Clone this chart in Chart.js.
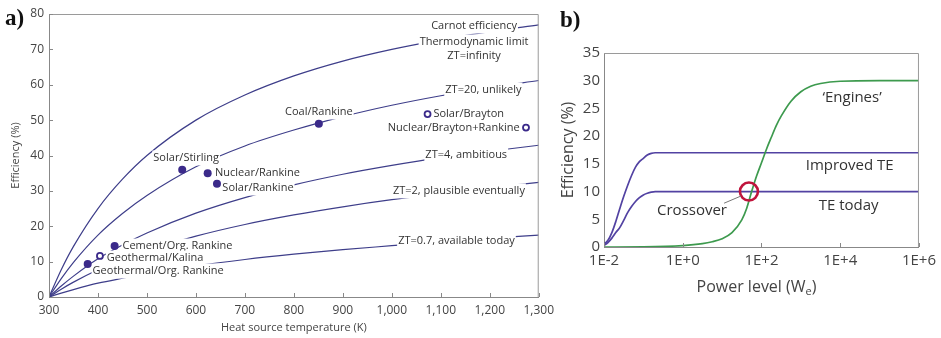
<!DOCTYPE html>
<html lang="en">
<head>
<meta charset="UTF-8">
<title>Efficiency vs temperature and power level</title>
<script src="https://cdn.jsdelivr.net/npm/chart.js"></script>
<style>
  html, body { margin: 0; padding: 0; background: #fff; }
  body { width: 941px; height: 338px; position: relative; overflow: hidden; }
  .panel { position: absolute; top: 0; height: 338px; }
  #boxA { left: 0; width: 560px; }
  #boxB { left: 560px; width: 381px; }
  .tag { position: absolute; font-family: 'Liberation Serif', serif; font-weight: bold; font-size: 23px; color: #111; line-height: 1; }
</style>
</head>
<body>
<div class="panel" id="boxA"><canvas id="chartA" width="560" height="338"></canvas></div>
<div class="panel" id="boxB"><canvas id="chartB" width="381" height="338"></canvas></div>
<div class="tag" style="left:5px; top:6px;">a)</div>
<div class="tag" style="left:560px; top:8px;">b)</div>

<script>
  // ---- panel a: efficiency vs heat source temperature ----
  const temps  = [300, 325, 350, 400, 450, 500, 600, 700, 800, 900, 1000, 1100, 1200, 1300];
  const carnot = [0, 7.7, 14.3, 25.0, 33.3, 40.0, 50.0, 57.1, 62.5, 66.7, 70.0, 72.7, 75.0, 76.9];
  const zt20   = [0, 5.2, 9.8, 17.5, 23.6, 28.7, 36.8, 42.7, 47.2, 51.0, 54.2, 56.9, 59.2, 61.2];
  const zt4    = [0, 3.1, 5.9, 10.8, 14.7, 18.1, 23.7, 28.1, 31.7, 34.7, 37.2, 39.4, 41.2, 42.9];
  const zt2    = [0, 2.2, 4.2, 7.7, 10.6, 13.1, 17.2, 20.5, 23.2, 25.5, 27.5, 29.2, 30.9, 32.4];
  const zt07   = [0, 1.1, 2.1, 3.9, 5.3, 6.6, 8.8, 10.6, 12.1, 13.4, 14.5, 15.6, 16.6, 17.5];

  const plantNames = ['Coal/Rankine', 'Solar/Stirling', 'Nuclear/Rankine', 'Solar/Rankine', 'Cement/Org. Rankine', 'Geothermal/Org. Rankine'];
  const plantTemps = [851, 572, 624, 643, 434, 379];
  const plantEff   = [49.0, 36.0, 35.0, 32.0, 14.4, 9.3];
  const projNames  = ['Geothermal/Kalina', 'Solar/Brayton', 'Nuclear/Brayton+Rankine'];
  const projTemps  = [404, 1073, 1274];
  const projEff    = [11.6, 51.7, 47.9];

  const tempTicks = [300, 400, 500, 600, 700, 800, 900, 1000, 1100, 1200, 1300];
  const effTicksA = [0, 10, 20, 30, 40, 50, 60, 70, 80];

  // ---- panel b: efficiency vs power level ----
  const powerTE    = [0.01, 0.01259, 0.01585, 0.01995, 0.02512, 0.03162, 0.03981, 0.05012, 0.0631, 0.07943,
                      0.1, 0.1259, 0.1585, 0.1995, 0.2512, 0.3162, 1, 10, 100, 1000, 1e4, 1e5, 1e6];
  const teToday    = [0.3, 0.8, 1.6, 2.6, 3.5, 4.8, 6.2, 7.3, 8.2, 8.9,
                      9.4, 9.7, 9.9, 10, 10, 10, 10, 10, 10, 10, 10, 10, 10];
  const teImproved = [0.5, 1.2, 2.6, 4.6, 6.9, 9.1, 11.1, 12.9, 14.4, 15.4,
                      16.0, 16.6, 16.9, 17, 17, 17, 17, 17, 17, 17, 17, 17, 17];
  const powerEng   = [0.01, 0.1, 1, 3.16, 5.62, 10, 17.8, 31.6, 42.2, 56.2, 75.0, 100, 133, 178, 237, 316,
                      562, 1000, 1778, 3162, 1e4, 1e5, 1e6];
  const engines    = [0, 0.03, 0.25, 0.6, 0.95, 1.5, 2.6, 4.9, 7.0, 10.0, 12.8, 15.2, 17.6, 19.8, 21.9, 23.6,
                      26.3, 28.0, 29.0, 29.5, 29.9, 30, 30];
  const crossover  = [48, 10];

  const powerTicks = [0.01, 1, 100, 1e4, 1e6];
  const powerTickLabels = ['1E-2', '1E+0', '1E+2', '1E+4', '1E+6'];
  const effTicksB = [0, 5, 10, 15, 20, 25, 30, 35];

  // text placed in data coordinates
  const notesA = [
    { text: 'Carnot efficiency', x: 1168, y: 76.6, align: 'center' },
    { text: 'Thermodynamic limit', x: 1168, y: 72.1, align: 'center' },
    { text: 'ZT=infinity', x: 1168, y: 68.2, align: 'center' },
    { text: 'ZT=20, unlikely', x: 1187, y: 58.5, align: 'center' },
    { text: 'Solar/Brayton', x: 1085, y: 51.7, align: 'left' },
    { text: 'Nuclear/Brayton+Rankine', x: 1261, y: 47.8, align: 'right' },
    { text: 'ZT=4, ambitious', x: 1152, y: 40.1, align: 'center' },
    { text: 'ZT=2, plausible eventually', x: 1137, y: 30.0, align: 'center' },
    { text: 'ZT=0.7, available today', x: 1132, y: 15.8, align: 'center' },
    { text: 'Coal/Rankine', x: 851, y: 52.3, align: 'center' },
    { text: 'Solar/Stirling', x: 580, y: 39.3, align: 'center' },
    { text: 'Nuclear/Rankine', x: 639, y: 35.1, align: 'left' },
    { text: 'Solar/Rankine', x: 654, y: 30.8, align: 'left' },
    { text: 'Cement/Org. Rankine', x: 450, y: 14.4, align: 'left' },
    { text: 'Geothermal/Kalina', x: 418, y: 11.0, align: 'left' },
    { text: 'Geothermal/Org. Rankine', x: 389, y: 7.35, align: 'left' }
  ];
  const notesB = [
    { text: '\u2018Engines\u2019', x: 2.0e4, y: 26.9, align: 'center' },
    { text: 'Improved TE', x: 1.74e4, y: 14.6, align: 'center' },
    { text: 'TE today', x: 1.63e4, y: 7.4, align: 'center' },
    { text: 'Crossover', x: 1.72, y: 6.5, align: 'center' }
  ];
  const leaderB = [[11.2, 7.9], [30.2, 9.2]];

  const FONT = "'Open Sans', 'DejaVu Sans', sans-serif";
  const toXY = (xs, ys) => xs.map((v, i) => ({ x: v, y: ys[i] }));

  function drawNotes(chart, notes, size, boxed) {
    const ctx = chart.ctx, sx = chart.scales.x, sy = chart.scales.y;
    ctx.save();
    ctx.font = size + 'px ' + FONT;
    ctx.textBaseline = 'middle';
    notes.forEach(n => {
      const px = sx.getPixelForValue(n.x), py = sy.getPixelForValue(n.y);
      const w = ctx.measureText(n.text).width;
      let left = px;
      if (n.align === 'center') left = px - w / 2;
      if (n.align === 'right') left = px - w;
      if (boxed) {
        ctx.fillStyle = '#fff';
        ctx.fillRect(left - 1, py - size / 2 - 2, w + 2, size + 4);
      }
      ctx.fillStyle = '#333';
      ctx.textAlign = 'left';
      ctx.fillText(n.text, left, py);
    });
    ctx.restore();
  }

  function drawFrame(chart, xTicks, yTicks) {
    const ctx = chart.ctx, a = chart.chartArea, sx = chart.scales.x, sy = chart.scales.y;
    ctx.save();
    ctx.strokeStyle = '#9a9a9a';
    ctx.lineWidth = 1;
    ctx.beginPath();
    ctx.moveTo(a.left, a.top + 0.5);
    ctx.lineTo(a.right - 0.5, a.top + 0.5);
    ctx.lineTo(a.right - 0.5, a.bottom);
    ctx.stroke();
    ctx.strokeStyle = '#888';
    ctx.beginPath();
    xTicks.forEach(v => {
      const px = Math.round(sx.getPixelForValue(v)) + 0.5;
      ctx.moveTo(px, a.bottom);
      ctx.lineTo(px, a.bottom - 4);
    });
    yTicks.forEach(v => {
      const py = Math.round(sy.getPixelForValue(v)) + 0.5;
      ctx.moveTo(a.left, py);
      ctx.lineTo(a.left + 4, py);
    });
    ctx.stroke();
    ctx.restore();
  }

  const lineA = (data) => ({
    data: toXY(temps, data), showLine: true, pointRadius: 0,
    borderColor: '#3e3e8a', borderWidth: 1.2, cubicInterpolationMode: 'monotone'
  });

  new Chart(document.getElementById('chartA'), {
    type: 'scatter',
    data: {
      datasets: [
        { label: 'Existing', data: toXY(plantTemps, plantEff), pointRadius: 4, backgroundColor: '#3b2a8a', borderColor: '#3b2a8a', borderWidth: 0 },
        { label: 'Proposed', data: toXY(projTemps, projEff), pointRadius: 3, backgroundColor: '#fff', borderColor: '#3b2a8a', borderWidth: 1.8 },
        lineA(carnot), lineA(zt20), lineA(zt4), lineA(zt2), lineA(zt07)
      ]
    },
    options: {
      responsive: false, animation: false, events: [],
      layout: { padding: { left: 0, right: 19, top: 14, bottom: 0 } },
      plugins: { legend: { display: false }, tooltip: { enabled: false } },
      scales: {
        x: {
          type: 'linear', min: 300, max: 1300,
          afterFit: s => { s.height = 41; },
          afterBuildTicks: s => { s.ticks = tempTicks.map(v => ({ value: v })); },
          grid: { display: false, drawTicks: false },
          border: { display: true, color: '#888', width: 1 },
          ticks: { autoSkip: false, maxRotation: 0, padding: 6, color: '#444', font: { family: FONT, size: 12 },
                   callback: v => v >= 1000 ? Math.floor(v / 1000) + ',' + String(v % 1000).padStart(3, '0') : String(v) },
          title: { display: true, text: 'Heat source temperature (K)', color: '#444', font: { family: FONT, size: 11 }, padding: { top: 0, bottom: 4 } }
        },
        y: {
          min: 0, max: 80,
          afterFit: s => { s.width = 49; },
          afterBuildTicks: s => { s.ticks = effTicksA.map(v => ({ value: v })); },
          grid: { display: false, drawTicks: false },
          border: { display: true, color: '#888', width: 1 },
          ticks: { padding: 5, color: '#444', font: { family: FONT, size: 12 } },
          title: { display: true, text: 'Efficiency (%)', color: '#444', font: { family: FONT, size: 11 }, padding: { top: 9, bottom: 0 } }
        }
      }
    },
    plugins: [{
      id: 'notesA',
      beforeDatasetDraw(chart, args) { if (args.index === 1) drawNotes(chart, notesA, 11, true); },
      afterDraw(chart) { drawFrame(chart, tempTicks, effTicksA); }
    }]
  });

  const lineB = (xs, ys, color) => ({
    data: toXY(xs, ys), showLine: true, pointRadius: 0,
    borderColor: color, borderWidth: 1.7, cubicInterpolationMode: 'monotone'
  });

  new Chart(document.getElementById('chartB'), {
    type: 'scatter',
    data: {
      datasets: [
        { label: 'Crossover', data: [{ x: crossover[0], y: crossover[1] }], pointRadius: 9, backgroundColor: 'rgba(0,0,0,0)', borderColor: '#c0143c', borderWidth: 2.6 },
        lineB(powerEng, engines, '#3d9a4e'),
        lineB(powerTE, teImproved, '#5242a2'),
        lineB(powerTE, teToday, '#5242a2')
      ]
    },
    options: {
      responsive: false, animation: false, events: [],
      layout: { padding: { left: 0, right: 22, top: 53, bottom: 0 } },
      plugins: { legend: { display: false }, tooltip: { enabled: false } },
      scales: {
        x: {
          type: 'logarithmic', min: 0.01, max: 1e6,
          afterFit: s => { s.height = 91; },
          afterBuildTicks: s => { s.ticks = powerTicks.map(v => ({ value: v })); },
          grid: { display: false, drawTicks: false },
          border: { display: true, color: '#888', width: 1 },
          ticks: { autoSkip: false, maxRotation: 0, padding: 5, color: '#444', font: { family: FONT, size: 15 },
                   callback: (v, i) => powerTickLabels[i] }
        },
        y: {
          min: 0, max: 35,
          afterFit: s => { s.width = 44; },
          afterBuildTicks: s => { s.ticks = effTicksB.map(v => ({ value: v })); },
          grid: { display: false, drawTicks: false },
          border: { display: true, color: '#888', width: 1 },
          ticks: { padding: 4, color: '#444', font: { family: FONT, size: 15 } },
          title: { display: true, text: 'Efficiency (%)', color: '#444', font: { family: FONT, size: 16, lineHeight: 1 }, padding: { top: 0, bottom: 0 } }
        }
      }
    },
    plugins: [{
      id: 'notesB',
      afterDatasetsDraw(chart) {
        const ctx = chart.ctx, sx = chart.scales.x, sy = chart.scales.y;
        drawNotes(chart, notesB, 15, false);
        ctx.save();
        ctx.strokeStyle = '#777';
        ctx.lineWidth = 1;
        ctx.beginPath();
        ctx.moveTo(sx.getPixelForValue(leaderB[0][0]), sy.getPixelForValue(leaderB[0][1]));
        ctx.lineTo(sx.getPixelForValue(leaderB[1][0]), sy.getPixelForValue(leaderB[1][1]));
        ctx.stroke();
        ctx.restore();
      },
      afterDraw(chart) {
        drawFrame(chart, powerTicks, []);
        // x axis title with subscript e
        const ctx = chart.ctx, a = chart.chartArea;
        ctx.save();
        ctx.fillStyle = '#444';
        ctx.textBaseline = 'alphabetic';
        const big = '16px ' + FONT, small = '11px ' + FONT;
        ctx.font = big;
        const p1 = 'Power level (W', p3 = ')';
        const w1 = ctx.measureText(p1).width, w3 = ctx.measureText(p3).width;
        ctx.font = small;
        const w2 = ctx.measureText('e').width;
        let x = (a.left + a.right) / 2 - (w1 + w2 + w3) / 2 - 5;
        const base = 292;
        ctx.font = big; ctx.fillText(p1, x, base); x += w1;
        ctx.font = small; ctx.fillText('e', x, base + 3); x += w2;
        ctx.font = big; ctx.fillText(p3, x, base);
        ctx.restore();
      }
    }]
  });
</script>
</body>
</html>
